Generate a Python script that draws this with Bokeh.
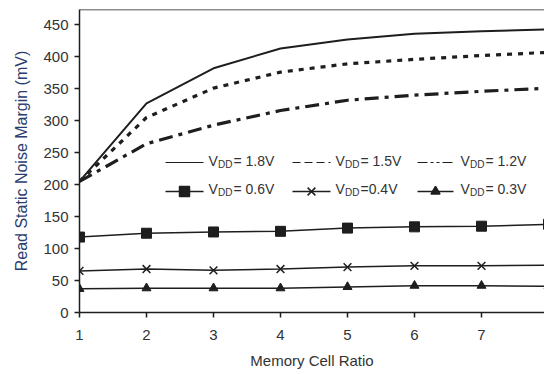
from bokeh.plotting import figure
from bokeh.models import Range1d, FixedTicker, Span
from bokeh.core.properties import value
from bokeh.embed import file_html
from bokeh.resources import INLINE

# ---- data ----
ratio = [1, 2, 3, 4, 5, 6, 7, 8]
vdd_18 = [205, 327, 382, 413, 427, 436, 440, 443]
vdd_15 = [205, 305, 351, 376, 389, 396, 402, 407]
vdd_12 = [205, 264, 293, 316, 332, 340, 346, 351]
vdd_06 = [118, 124, 126, 127, 132, 134, 135, 138]
vdd_04 = [65, 68, 66, 68, 71, 73, 73, 74]
vdd_03 = [37, 38, 38, 38, 40, 42, 42, 41]
y_ticks = [0, 50, 100, 150, 200, 250, 300, 350, 400, 450]
x_ticks = [1, 2, 3, 4, 5, 6, 7, 8]
legend_values = ["= 1.8V", "= 1.5V", "= 1.2V", "= 0.6V", "=0.4V", "= 0.3V"]

FONT = "Liberation Sans"
INK = "#1e1e1e"
TXT = "#333333"

W, H = 544, 374
ML, MT, MB = 79, 9, 62
FW, FH = W - ML, H - MT - MB

p = figure(width=W, height=H, output_backend="svg", toolbar_location=None,
           x_range=Range1d(1, 1 + FW / 67.0), y_range=Range1d(0, 474),
           min_border_left=ML, min_border_right=0, min_border_top=MT,
           min_border_bottom=MB, background_fill_color="white",
           border_fill_color="white")
p.outline_line_color = None
p.grid.visible = False

# pixel coordinate system of the frame (origin top-left) for the legend
p.extra_x_ranges = {"px": Range1d(0, FW)}
p.extra_y_ranges = {"py": Range1d(FH, 0)}

for ax in (p.xaxis[0], p.yaxis[0]):
    ax.axis_line_color = INK
    ax.axis_line_width = 1.5
    ax.major_tick_line_color = INK
    ax.major_tick_line_width = 1.5
    ax.major_tick_in = 0
    ax.major_tick_out = 5
    ax.minor_tick_line_color = None
    ax.major_label_text_font = FONT
    ax.major_label_text_font_size = "15px"
    ax.major_label_text_color = TXT
    ax.axis_label_text_font = FONT
    ax.axis_label_text_font_style = "normal"
    ax.axis_label_text_font_size = "15px"

p.xaxis.ticker = FixedTicker(ticks=x_ticks)
p.yaxis.ticker = FixedTicker(ticks=y_ticks)
p.xaxis.axis_label = "Memory Cell Ratio"
p.xaxis.axis_label_text_color = TXT
p.xaxis.major_label_standoff = 12
p.xaxis.axis_label_standoff = 9
p.yaxis.axis_label = "Read Static Noise Margin (mV)"
p.yaxis.axis_label_text_color = "#2a3d6e"
p.yaxis.axis_label_text_font_size = "16px"
p.yaxis.major_label_standoff = 6
p.yaxis.axis_label_standoff = 10

p.add_layout(Span(location=474, dimension="width", line_color=INK, line_width=1.5))

# ---- series ----
p.line(ratio, vdd_18, line_color=INK, line_width=2)
p.line(ratio, vdd_15, line_color=INK, line_width=3.2, line_dash="5 6")
p.line(ratio, vdd_12, line_color=INK, line_width=3.2, line_dash="14 6 4 6")

p.line(ratio, vdd_06, line_color=INK, line_width=1.5)
p.scatter(ratio, vdd_06, marker="square", size=10, fill_color=INK, line_color=INK)
p.line(ratio, vdd_04, line_color=INK, line_width=1.5)
p.scatter(ratio, vdd_04, marker="x", size=11, line_color=INK, line_width=1.5)
p.line(ratio, vdd_03, line_color=INK, line_width=1.5)
p.scatter(ratio, vdd_03, marker="triangle", size=9, fill_color=INK, line_color=INK)

# ---- legend (frame pixel coordinates) ----
col_sample = [(86, 124), (213, 251), (338, 374)]
col_text = [129, 256, 381]
row_line_y = [153, 182]
row_text_y = [151, 179]
sample_dash = ["solid", "8 4", "10 3 3 3 3 3"]
markers = ["square", "x", "triangle"]
msize = [10, 11, 9]

for r in range(2):
    for c in range(3):
        x0, x1 = col_sample[c]
        ly = row_line_y[r]
        kw = dict(x_range_name="px", y_range_name="py")
        if r == 0:
            p.line([x0, x1], [ly, ly], line_color=INK, line_width=1.2,
                   line_dash=sample_dash[c], **kw)
        else:
            p.line([x0, x1], [ly, ly], line_color=INK, line_width=1.5, **kw)
            p.scatter([(x0 + x1) / 2], [ly], marker=markers[c], size=msize[c],
                      fill_color=INK, line_color=INK, line_width=1.5, **kw)
        tx = col_text[c]
        ty = row_text_y[r]
        p.text([tx], [ty], text=["V"], text_font=value(FONT), text_font_size="14px",
               text_color=TXT, text_baseline="middle", text_align="left", **kw)
        p.text([tx + 9.5], [ty + 4], text=["DD"], text_font=value(FONT),
               text_font_size="10px", text_color=TXT, text_baseline="middle",
               text_align="left", **kw)
        p.text([tx + 25], [ty], text=[legend_values[r * 3 + c]], text_font=value(FONT),
               text_font_size="14px", text_color=TXT, text_baseline="middle",
               text_align="left", **kw)

open("out.html", "w").write(file_html(p, INLINE))
